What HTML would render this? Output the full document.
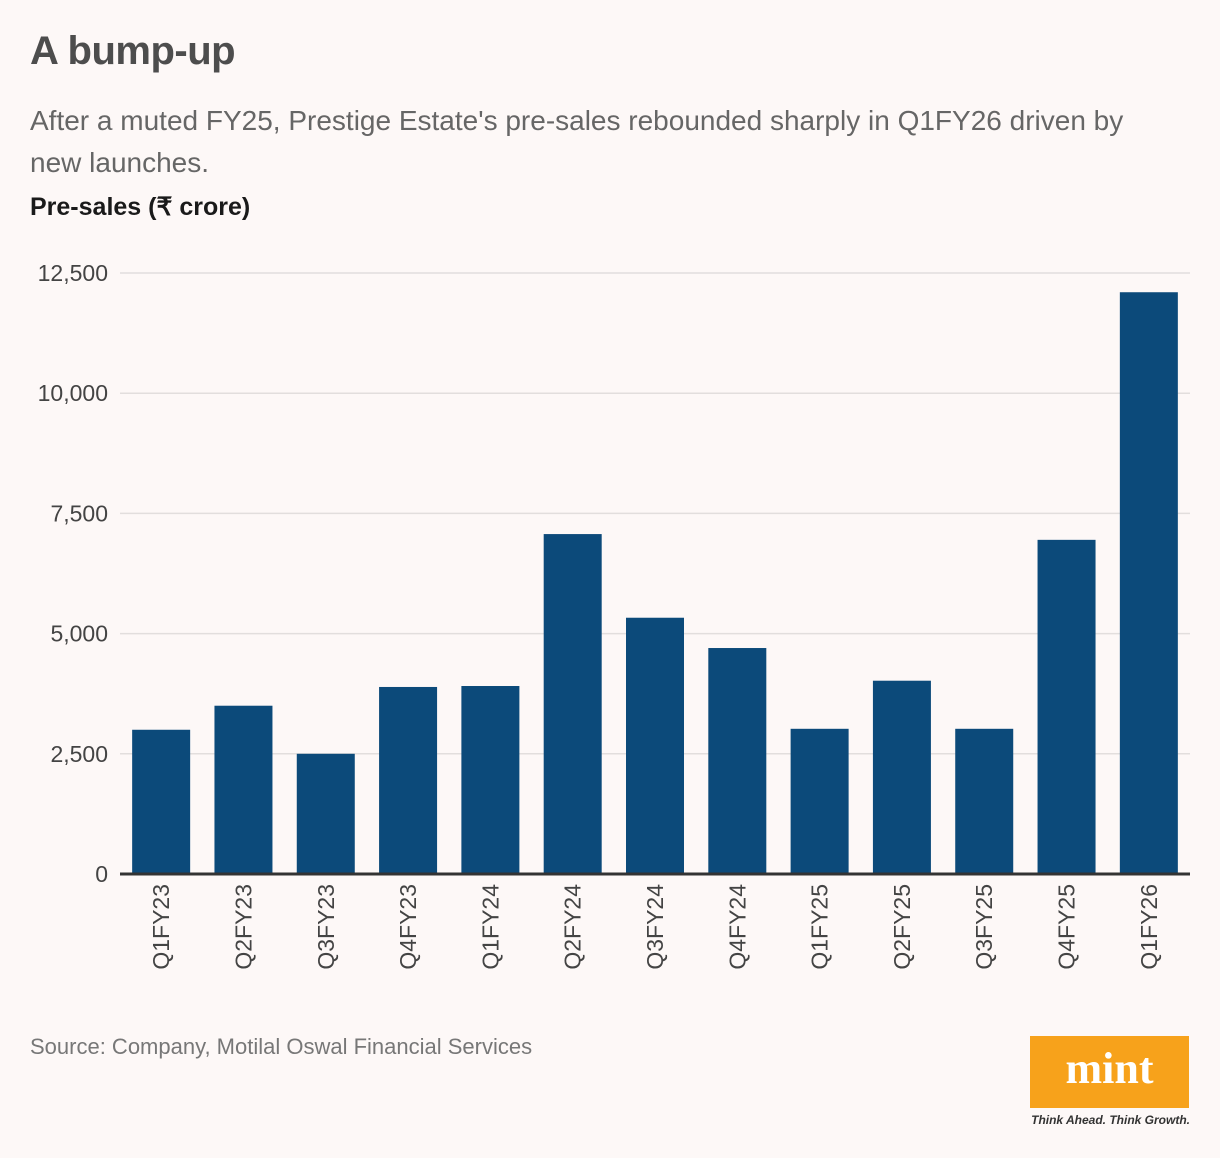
<!DOCTYPE html>
<html><head><meta charset="utf-8">
<style>
body{margin:0;background:#fdf8f7;font-family:"Liberation Sans",sans-serif;}
#wrap{position:relative;width:1220px;height:1158px;overflow:hidden;}
.t{position:absolute;margin:0;}
</style></head><body>
<div id="wrap">
<h1 class="t" style="left:30px;top:29px;font-size:40px;font-weight:bold;color:#4d4d4d;letter-spacing:-0.5px;">A bump-up</h1>
<p class="t" style="left:30px;top:100px;width:1170px;font-size:28px;line-height:42px;color:#666;">After a muted FY25, Prestige Estate's pre-sales rebounded sharply in Q1FY26 driven by<br>new launches.</p>
<p class="t" style="left:30px;top:192px;font-size:25px;font-weight:bold;color:#1a1a1a;">Pre-sales (₹ crore)</p>
<svg id="chart" width="1220" height="1158" style="position:absolute;left:0;top:0"></svg>
<p class="t" style="left:30px;top:1034px;font-size:22px;color:#777;">Source: Company, Motilal Oswal Financial Services</p>
<div style="position:absolute;left:1030px;top:1036px;width:159px;height:72px;background:#f7a21b;color:#fff;font-family:'Liberation Serif',serif;font-weight:bold;font-size:44px;text-align:center;line-height:66px;">mint</div>
<div class="t" style="left:1030px;top:1113px;width:160px;font-size:12px;font-style:italic;font-weight:bold;color:#333;text-align:right;">Think Ahead. Think Growth.</div>
</div>
<script>
const categories=["Q1FY23","Q2FY23","Q3FY23","Q4FY23","Q1FY24","Q2FY24","Q3FY24","Q4FY24","Q1FY25","Q2FY25","Q3FY25","Q4FY25","Q1FY26"];
const values=[3000,3500,2500,3890,3910,7070,5330,4700,3020,4020,3020,6950,12100];
const ticks=[0,2500,5000,7500,10000,12500];
const tickLabels=["0","2,500","5,000","7,500","10,000","12,500"];
const NS="http://www.w3.org/2000/svg";
const svg=document.getElementById("chart");
const x0=120,x1=1190,y0=874,yTop=273,maxV=12500;
const band=(x1-x0)/categories.length,barW=58;
const y=v=>y0-(v/maxV)*(y0-yTop);
const xc=i=>x0+band*i+band/2;
function mk(tag,attrs){const e=document.createElementNS(NS,tag);for(const k in attrs)e.setAttribute(k,attrs[k]);svg.appendChild(e);return e;}
ticks.forEach((t,i)=>{
 if(t>0){const g=mk("line",{x1:x0,x2:x1,y1:y(t),y2:y(t),stroke:"#e2dedd","stroke-width":1.5});
 
 }
 const l=mk("text",{x:108,y:y(t)+8,"text-anchor":"end","font-size":23,fill:"#444","font-family":"Liberation Sans, sans-serif"});
 l.textContent=tickLabels[i];
 
 
});
values.forEach((v,i)=>{
 const r=mk("rect",{x:xc(i)-barW/2,y:y(v),width:barW,height:y0-y(v),fill:"#0c4a7a"});
 
 
 const t=mk("text",{x:0,y:0,"text-anchor":"end","font-size":23,fill:"#444","font-family":"Liberation Sans, sans-serif",transform:`translate(${xc(i)+8},${y0+10}) rotate(-90)`});
 t.textContent=categories[i];
 
 
});
const ax=mk("line",{x1:x0,x2:x1,y1:y0,y2:y0,stroke:"#333","stroke-width":3});


</script>
</body></html>
